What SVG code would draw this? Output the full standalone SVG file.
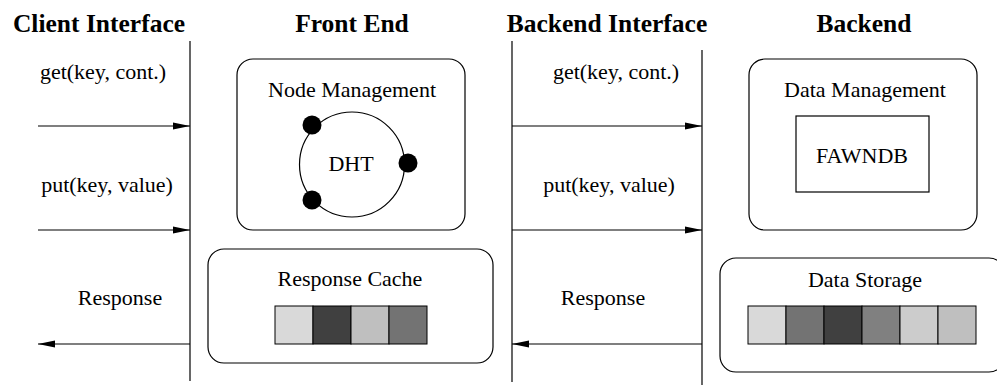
<svg xmlns="http://www.w3.org/2000/svg" width="997" height="385" viewBox="0 0 997 385">
<style>
text{font-family:"Liberation Serif","Times New Roman",serif;fill:#000;text-anchor:middle}
.t{font-size:25.5px;font-weight:bold}
.l{font-size:22px}
.box{fill:#fff;stroke:#000;stroke-width:1.2}
.ln{stroke:#000;stroke-width:1.2;fill:none}
.cell{stroke:#000;stroke-width:1}
</style>
<defs>
<marker id="ah" markerWidth="17" markerHeight="8" refX="17" refY="4" orient="auto" markerUnits="userSpaceOnUse">
<path d="M0,0.5 L17,4 L0,7.5 Z" fill="#000"/>
</marker>
</defs>
<rect width="997" height="385" fill="#fff"/>
<g id="titles">
<text class="t" x="99" y="32">Client Interface</text>
<text class="t" x="352" y="32">Front End</text>
<text class="t" x="607" y="32">Backend Interface</text>
<text class="t" x="864" y="32">Backend</text>
</g>
<g id="connectors">
<line class="ln" x1="190" y1="41" x2="190" y2="381"/>
<line class="ln" x1="512" y1="41" x2="512" y2="382"/>
<line class="ln" x1="702" y1="50" x2="702" y2="385"/>
<line class="ln" x1="38" y1="126" x2="190" y2="126" marker-end="url(#ah)"/>
<line class="ln" x1="38" y1="230" x2="190" y2="230" marker-end="url(#ah)"/>
<line class="ln" x1="190" y1="344" x2="38" y2="344" marker-end="url(#ah)"/>
<line class="ln" x1="512" y1="126" x2="702" y2="126" marker-end="url(#ah)"/>
<line class="ln" x1="512" y1="230" x2="702" y2="230" marker-end="url(#ah)"/>
<line class="ln" x1="702" y1="344" x2="512" y2="344" marker-end="url(#ah)"/>
</g>
<g id="labels">
<text class="l" x="103" y="79">get(key, cont.)</text>
<text class="l" x="107" y="192">put(key, value)</text>
<text class="l" x="120" y="305">Response</text>
<text class="l" x="616" y="79">get(key, cont.)</text>
<text class="l" x="609" y="192">put(key, value)</text>
<text class="l" x="603" y="305">Response</text>
</g>
<g id="node-management">
<rect class="box" x="237" y="59" width="228" height="171" rx="16"/>
<text class="l" x="352" y="97">Node Management</text>
<circle class="ln" cx="352" cy="164.5" r="52.5"/>
<text class="l" x="351" y="171">DHT</text>
<circle cx="312" cy="125" r="9.5" fill="#000"/>
<circle cx="408" cy="163" r="9.5" fill="#000"/>
<circle cx="312" cy="200" r="9.5" fill="#000"/>
</g>
<g id="data-management">
<rect class="box" x="749" y="59" width="228" height="171" rx="16"/>
<text class="l" x="865" y="97">Data Management</text>
<rect class="box" x="796" y="116" width="133" height="76"/>
<text class="l" x="862" y="163">FAWNDB</text>
</g>
<g id="response-cache">
<rect class="box" x="208" y="249" width="285" height="114" rx="16"/>
<text class="l" x="350" y="286">Response Cache</text>
<rect class="cell" x="275" y="306" width="38" height="38" fill="#d9d9d9"/>
<rect class="cell" x="313" y="306" width="38" height="38" fill="#404040"/>
<rect class="cell" x="351" y="306" width="38" height="38" fill="#bfbfbf"/>
<rect class="cell" x="389" y="306" width="38" height="38" fill="#737373"/>
</g>
<g id="data-storage">
<rect class="box" x="720" y="258" width="285" height="114" rx="16"/>
<text class="l" x="865" y="287">Data Storage</text>
<rect class="cell" x="748" y="306" width="38" height="38" fill="#d9d9d9"/>
<rect class="cell" x="786" y="306" width="38" height="38" fill="#737373"/>
<rect class="cell" x="824" y="306" width="38" height="38" fill="#404040"/>
<rect class="cell" x="862" y="306" width="38" height="38" fill="#808080"/>
<rect class="cell" x="900" y="306" width="38" height="38" fill="#cccccc"/>
<rect class="cell" x="938" y="306" width="38" height="38" fill="#bfbfbf"/>
</g>
</svg>
